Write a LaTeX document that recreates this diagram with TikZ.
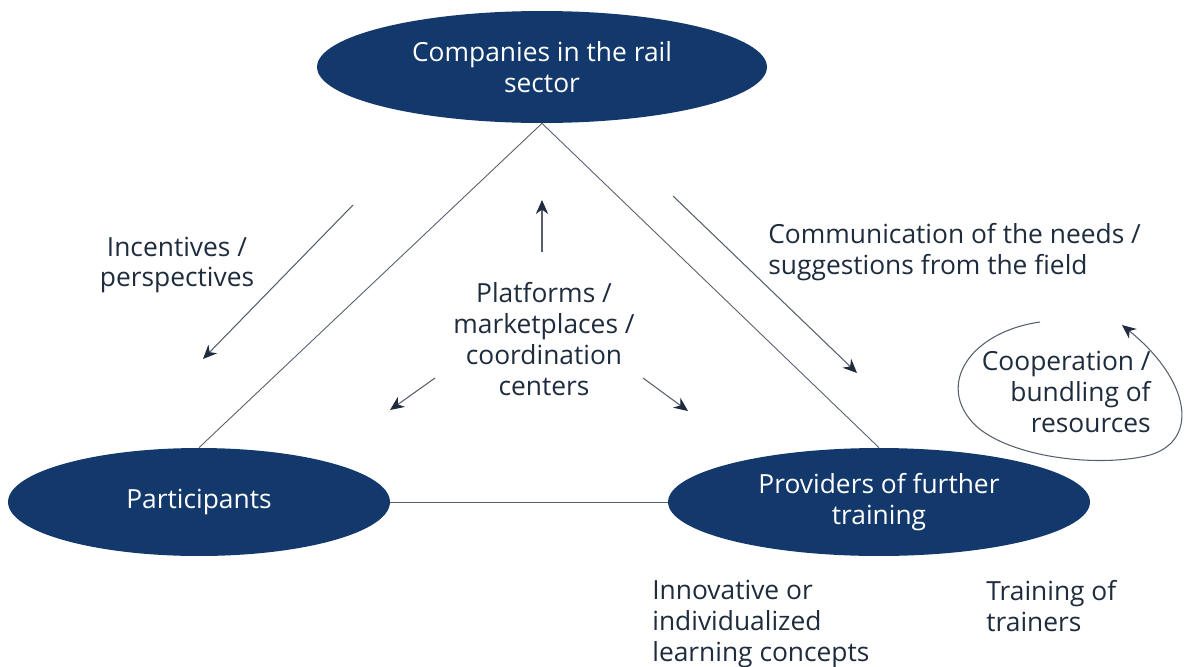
\documentclass[tikz,border=0pt]{standalone}
\usepackage{fontspec}
\setmainfont{Open Sans}
\usetikzlibrary{shapes.geometric,arrows.meta}

\definecolor{railblue}{HTML}{13386B}
\definecolor{railtext}{HTML}{1E2C3E}
\definecolor{railline}{HTML}{55606C}

\begin{document}
\begin{tikzpicture}[x=0.02cm,y=-0.02cm,
    actor/.style={ellipse, fill=railblue, text=white, inner sep=0pt, align=center},
    label/.style={text=railtext, inner sep=0pt},
    link/.style={railline, line width=0.5pt},
    flow/.style={railline, line width=0.6pt, -{Stealth[length=8pt,width=7pt,railtext]}}]
  \useasboundingbox[fill=white] (0,0) rectangle (1186,666);
  \fontsize{15}{17.6}\selectfont

  % the three actors
  \node[actor, minimum width=9cm, minimum height=2.24cm] (Comp) at (542,67) {Companies in the rail\\sector};
  \node[actor, minimum width=7.64cm, minimum height=2.16cm] (Part) at (199,502) {Participants};
  \node[actor, minimum width=8.44cm, minimum height=2.16cm] (Prov) at (879,502) {Providers of further\\training};

  % triangle
  \draw[link] (Comp.south) -- (Part.north);
  \draw[link] (Comp.south) -- (Prov.north);
  \draw[link] (Part.east) -- (Prov.west);

  % texts
  \node[label, align=center] (Inc) at (177,265) {Incentives /\\perspectives};
  \node[label, align=center] (Plat) at (544,339) {Platforms /\\marketplaces /\\coordination\\centers};
  \node[label, align=left, anchor=west] (Comm) at (768,252) {Communication of the needs /\\suggestions from the field};
  \node[label, align=right, anchor=east] (Coop) at (1151,392) {Cooperation /\\bundling of\\resources};
  \node[label, align=left, anchor=north west] (Inno) at (652,580) {Innovative or\\individualized\\learning concepts};
  \node[label, align=left, anchor=north west] (Train) at (986,580) {Training of\\trainers};

  % arrows
  \coordinate (IncA) at (353,205);  \coordinate (IncB) at (203,359);
  \coordinate (ComA) at (673,196);  \coordinate (ComB) at (857,373);
  \coordinate (UpA) at (542,252);   \coordinate (UpB) at (542,200);
  \coordinate (LeA) at (435,378);   \coordinate (LeB) at (390,410);
  \coordinate (RiA) at (643,378);   \coordinate (RiB) at (688,411);
  \draw[flow] (IncA) -- (IncB);
  \draw[flow] (ComA) -- (ComB);
  \draw[flow] (UpA) -- (UpB);
  \draw[flow] (LeA) -- (LeB);
  \draw[flow] (RiA) -- (RiB);

  % loop round the cooperation text
  \coordinate (LoopA) at (1040,322);
  \coordinate (LoopB) at (1122,325);
  \draw[flow] (LoopA) .. controls (970,332) and (935,385) .. (975,425)
    .. controls (1010,458) and (1100,468) .. (1150,455)
    .. controls (1200,440) and (1190,380) .. (LoopB);
\end{tikzpicture}
\end{document}
